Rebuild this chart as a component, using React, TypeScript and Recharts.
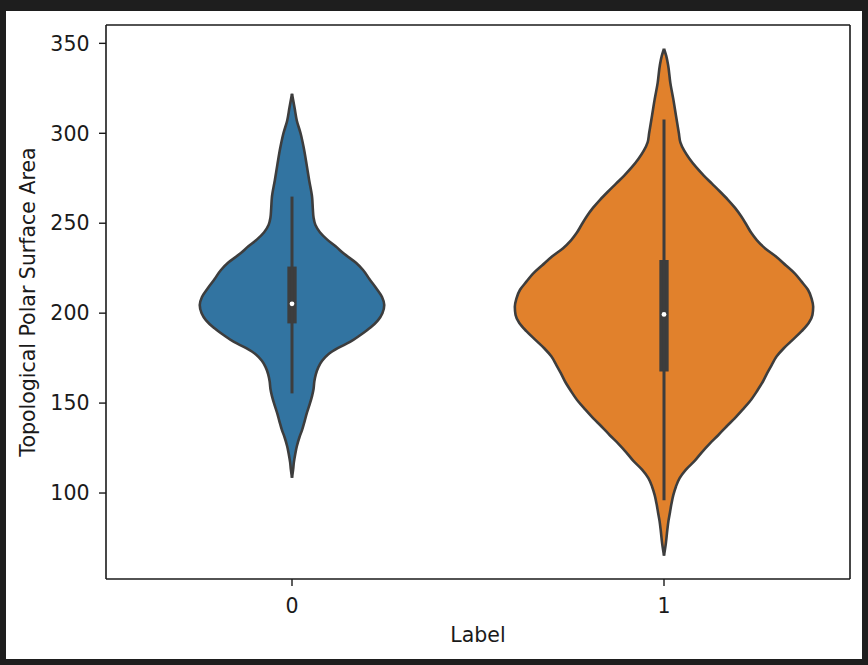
import React from 'react';
import {
  ComposedChart,
  Area,
  XAxis,
  YAxis,
  ReferenceLine,
  ReferenceArea,
  ReferenceDot,
  Label,
} from 'recharts';

// Category labels on the x axis
const categories = ['0', '1'];

// Violin for Label = 0: sampled values and half widths (in category-axis units)
const blueValues = [
  108.5, 113, 117, 122, 126, 131, 135, 140, 144.5, 149, 154, 158, 162, 166, 170,
  173.5, 177, 180.5, 184, 188, 192, 196, 200, 204.5, 209, 214, 219, 224, 228, 233,
  237, 241, 245, 249, 253, 258, 264.5, 274, 283, 292.5, 300, 307, 314, 322,
];
const blueHalfWidths = [
  0, 0.003, 0.005, 0.009, 0.013, 0.02, 0.027, 0.034, 0.04, 0.047, 0.054, 0.058, 0.06, 0.064, 0.071,
  0.081, 0.097, 0.123, 0.156, 0.185, 0.211, 0.231, 0.243, 0.248, 0.242, 0.226, 0.208, 0.191, 0.172, 0.14,
  0.118, 0.094, 0.075, 0.063, 0.058, 0.056, 0.054, 0.046, 0.039, 0.031, 0.023, 0.013, 0.007, 0,
];

// Violin for Label = 1
const orangeValues = [
  65.2, 72, 79.6, 84.5, 89.2, 94, 98.8, 103.5, 108.3, 113, 118, 122.5, 127.5, 132, 137,
  141.5, 146.5, 151, 157, 162, 166.5, 171, 176, 180.5, 185, 190, 194.5, 199, 203.5, 208,
  213, 217.5, 222, 226.5, 231.5, 236, 240.5, 244.5, 249, 254, 258.5, 263, 267.5, 272, 276.5,
  281, 286, 290.5, 295, 300, 310, 319, 328, 338, 343, 347,
];
const orangeHalfWidths = [
  0, 0.005, 0.009, 0.012, 0.016, 0.02, 0.025, 0.032, 0.042, 0.059, 0.083, 0.101, 0.123, 0.145, 0.168,
  0.19, 0.212, 0.231, 0.251, 0.266, 0.277, 0.289, 0.303, 0.322, 0.345, 0.37, 0.389, 0.399, 0.401, 0.397,
  0.387, 0.37, 0.352, 0.328, 0.301, 0.272, 0.25, 0.235, 0.222, 0.207, 0.191, 0.172, 0.151, 0.129, 0.107,
  0.087, 0.068, 0.054, 0.044, 0.04, 0.032, 0.025, 0.017, 0.011, 0.006, 0,
];

// Inner box statistics per category
const whiskerLow = [155.4, 96];
const whiskerHigh = [264.8, 307.6];
const quartile1 = [194.3, 167.6];
const quartile3 = [225.9, 229.5];
const medians = [205.2, 199.3];

const yTicks = [100, 150, 200, 250, 300, 350];
const yDomain = [52.2, 360.2];
const xDomain = [-0.5, 1.5];
const fills = ['#3274a1', '#e1812c'];

type Pair = [number | null, number | null];
type Row = { v: number; s0: Pair; s1: Pair };

const rows: Row[] = [];
blueValues.forEach((v, i) => {
  const w = blueHalfWidths[i];
  rows.push({ v, s0: [0 - w, 0 + w], s1: [null, null] });
});
orangeValues.forEach((v, i) => {
  const w = orangeHalfWidths[i];
  rows.push({ v, s0: [null, null], s1: [1 - w, 1 + w] });
});
rows.sort((a, b) => a.v - b.v);

const INK = '#1a1a1a';
const OUTLINE = '#3d3d3d';
const FONT = 20.5;
const boxHalf = 0.0125;

export default function App() {
  return (
    <div
      style={{
        position: 'fixed',
        left: 0,
        top: 0,
        width: 868,
        height: 665,
        background: '#1e1e1e',
        fontFamily: '"DejaVu Sans", sans-serif',
      }}
    >
      <div
        style={{
          position: 'absolute',
          left: 6,
          top: 11,
          width: 856,
          height: 648,
          background: '#ffffff',
        }}
      >
        <ComposedChart
          layout="vertical"
          width={856}
          height={648}
          data={rows}
          margin={{ top: 14, right: 12, left: 0, bottom: 0 }}
        >
          <XAxis
            type="number"
            domain={xDomain}
            ticks={[0, 1]}
            allowDataOverflow
            tickFormatter={(i: number) => categories[i] ?? ''}
            height={80}
            tickSize={7}
            tickMargin={12}
            axisLine={{ stroke: INK, strokeWidth: 1.6 }}
            tickLine={{ stroke: INK, strokeWidth: 1.4 }}
            tick={{ fill: INK, fontSize: FONT }}
          >
            <Label value="Label" position="insideBottom" offset={17} fill={INK} fontSize={FONT} />
          </XAxis>
          <YAxis
            type="number"
            dataKey="v"
            domain={yDomain}
            ticks={yTicks}
            reversed
            allowDataOverflow
            width={100}
            tickSize={7}
            tickMargin={9.5}
            axisLine={{ stroke: INK, strokeWidth: 1.6 }}
            tickLine={{ stroke: INK, strokeWidth: 1.4 }}
            tick={{ fill: INK, fontSize: FONT }}
          >
            <Label
              value="Topological Polar Surface Area"
              angle={-90}
              position="insideLeft"
              offset={22}
              fill={INK}
              fontSize={FONT}
              style={{ textAnchor: 'middle' }}
            />
          </YAxis>

          <Area
            dataKey="s0"
            type="monotone"
            connectNulls
            fill={fills[0]}
            fillOpacity={1}
            stroke={OUTLINE}
            strokeWidth={2.6}
            dot={false}
            activeDot={false}
            isAnimationActive={false}
          />
          <Area
            dataKey="s1"
            type="monotone"
            connectNulls
            fill={fills[1]}
            fillOpacity={1}
            stroke={OUTLINE}
            strokeWidth={2.6}
            dot={false}
            activeDot={false}
            isAnimationActive={false}
          />

          {categories.map((c, i) => (
            <ReferenceLine
              key={'w' + c}
              segment={[
                { x: i, y: whiskerLow[i] },
                { x: i, y: whiskerHigh[i] },
              ]}
              stroke={OUTLINE}
              strokeWidth={3}
            />
          ))}
          {categories.map((c, i) => (
            <ReferenceArea
              key={'b' + c}
              x1={i - boxHalf}
              x2={i + boxHalf}
              y1={quartile1[i]}
              y2={quartile3[i]}
              fill={OUTLINE}
              fillOpacity={1}
              stroke="none"
            />
          ))}
          {categories.map((c, i) => (
            <ReferenceDot
              key={'m' + c}
              x={i}
              y={medians[i]}
              r={2.4}
              fill="#ffffff"
              stroke="none"
            />
          ))}

          <ReferenceLine y={yDomain[1]} stroke={INK} strokeWidth={1.6} ifOverflow="visible" />
          <ReferenceLine x={xDomain[1]} stroke={INK} strokeWidth={1.6} ifOverflow="visible" />
        </ComposedChart>
      </div>
    </div>
  );
}
